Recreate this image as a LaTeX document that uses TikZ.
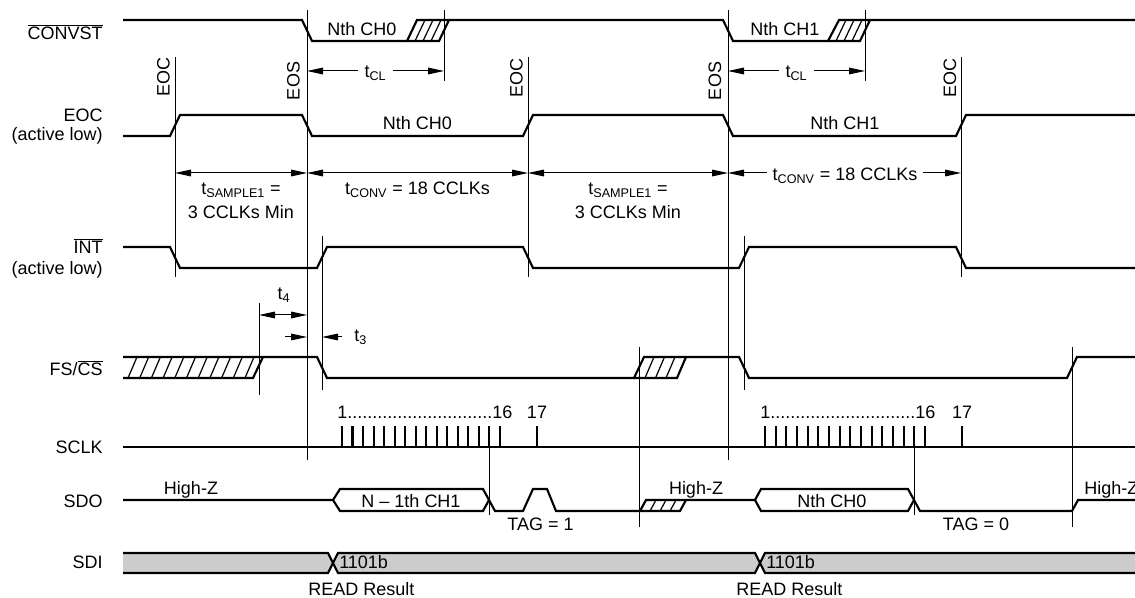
\documentclass[tikz,border=0pt]{standalone}
\usepackage{fontspec}
\setmainfont{Liberation Sans}
\usetikzlibrary{arrows.meta}

\tikzset{
  sig/.style={line width=1.6pt},
  refline/.style={line width=0.75pt},
  hatch/.style={line width=0.9pt},
  dim/.style={line width=0.75pt,{Triangle[length=12pt,width=5pt]}-{Triangle[length=12pt,width=5pt]}},
  dimto/.style={line width=0.75pt,-{Triangle[length=12pt,width=5pt]}},
  lbl/.style={inner sep=0pt},
  busfill/.style={sig,fill=gray!40},
}

\begin{document}
\begin{tikzpicture}[x=0.75pt,y=0.75pt,yscale=-1,xscale=1,font=\fontsize{13.5}{16}\selectfont]
\useasboundingbox (0,0) rectangle (1135,598);

% reference lines
\coordinate (eoc1) at (175,57);
\coordinate (eos1) at (307,10);
\coordinate (tcl1end) at (444,10);
\coordinate (eoc2) at (528,57);
\coordinate (eos2) at (728,10);
\coordinate (tcl2end) at (865,10);
\coordinate (eoc3) at (961,57);
\coordinate (fsup1) at (259,303);
\coordinate (intup1) at (322,236);
\coordinate (intup2) at (744,236);
\coordinate (fsup2) at (639,347);
\coordinate (fsup3) at (1072,347);
\coordinate (sdox1) at (489,447);
\coordinate (sdox2) at (914,447);

\draw[refline] (eoc1) -- ++(0,220);
\draw[refline] (eos1) -- ++(0,450);
\draw[refline] (tcl1end) -- ++(0,71);
\draw[refline] (eoc2) -- ++(0,220);
\draw[refline] (eos2) -- ++(0,450);
\draw[refline] (tcl2end) -- ++(0,71);
\draw[refline] (eoc3) -- ++(0,220);
\draw[refline] (fsup1) -- ++(0,92);
\draw[refline] (intup1) -- ++(0,154);
\draw[refline] (intup2) -- ++(0,154);
\draw[refline] (fsup2) -- ++(0,180);
\draw[refline] (fsup3) -- ++(0,180);
\draw[refline] (sdox1) -- ++(0,68);
\draw[refline] (sdox2) -- ++(0,68);

% rows of the timing arrows
\path (0,71) coordinate (rowcl) (0,173) coordinate (rowconv)
      (0,315) coordinate (rowfour) (0,337) coordinate (rowthree);

% signal names
\node[lbl,anchor=base east] (convst) at (103,40) {$\overline{\mbox{CONVST}}$};
\node[lbl,anchor=base east] (eoc) at (103,122) {EOC};
\node[lbl,anchor=base east] (eocnote) at (103,141) {(active low)};
\node[lbl,anchor=base east] (int) at (103,254) {$\overline{\mbox{INT}}$};
\node[lbl,anchor=base east] (intnote) at (103,275) {(active low)};
\node[lbl,anchor=base east] (fscs) at (103,376) {FS/$\overline{\mbox{CS}}$};
\node[lbl,anchor=base east] (sclk) at (103,454) {SCLK};
\node[lbl,anchor=base east] (sdo) at (103,507) {SDO};
\node[lbl,anchor=base east] (sdi) at (103,568) {SDI};

% edge labels
\node[lbl,rotate=90] (eoclbl1) at (163.5,77.5) {EOC};
\node[lbl,rotate=90] (eoslbl1) at (293.5,81) {EOS};
\node[lbl,rotate=90] (eoclbl2) at (516.5,78) {EOC};
\node[lbl,rotate=90] (eoslbl2) at (715,81) {EOS};
\node[lbl,rotate=90] (eoclbl3) at (950,78) {EOC};

%CONVST
\draw[sig] (123,20) -- (302,20) -- (312,41) -- (407,41) -- (417,20) -- (723,20) -- (733,41) -- (828,41) -- (839,20) -- (1135,20);
\draw[sig] (407,41) -- (439,41) -- (449,20);
\draw[sig] (828,41) -- (860,41) -- (870,20);
\foreach \x in {415,423,431} \draw[hatch] (\x,41) -- ++(10,-21);
\foreach \x in {836,844,852} \draw[hatch] (\x,41) -- ++(10,-21);
\node[lbl,anchor=base] (ch0a) at (362,36) {Nth CH0};
\node[lbl,anchor=base] (ch1a) at (785,36) {Nth CH1};

% t_CL
\node[anchor=base,inner ysep=0pt,inner xsep=5pt] (tcl1) at (375.5,78) {t\textsubscript{CL}};
\draw[dimto] (tcl1.west |- rowcl) -- (eos1 |- rowcl);
\draw[dimto] (tcl1.east |- rowcl) -- (tcl1end |- rowcl);
\node[anchor=base,inner ysep=0pt,inner xsep=5pt] (tcl2) at (796.5,78) {t\textsubscript{CL}};
\draw[dimto] (tcl2.west |- rowcl) -- (eos2 |- rowcl);
\draw[dimto] (tcl2.east |- rowcl) -- (tcl2end |- rowcl);

%EOC
\draw[sig] (123,136) -- (170,136) -- (180,115) -- (302,115) -- (312,136) -- (523,136) -- (533,115) -- (723,115) -- (733,136) -- (956,136) -- (966,115) -- (1135,115);
\node[lbl,anchor=base] (ch0b) at (417.5,130) {Nth CH0};
\node[lbl,anchor=base] (ch1b) at (845,130) {Nth CH1};

% conversion and sample times
\draw[dim] (eoc1 |- rowconv) -- (eos1 |- rowconv);
\draw[dim] (eos1 |- rowconv) -- (eoc2 |- rowconv);
\draw[dim] (eoc2 |- rowconv) -- (eos2 |- rowconv);
\node[lbl,anchor=base] (samp1) at (241,195) {t\textsubscript{SAMPLE1} =};
\node[lbl,anchor=base] (min1) at (241,219) {3 CCLKs Min};
\node[lbl,anchor=base] (conv1) at (417.5,195) {t\textsubscript{CONV} = 18 CCLKs};
\node[lbl,anchor=base] (samp2) at (628,195) {t\textsubscript{SAMPLE1} =};
\node[lbl,anchor=base] (min2) at (628,219) {3 CCLKs Min};
\node[anchor=base,inner ysep=0pt,inner xsep=4pt] (conv2) at (845,181) {t\textsubscript{CONV} = 18 CCLKs};
\draw[dimto] (conv2.west |- rowconv) -- (eos2 |- rowconv);
\draw[dimto] (conv2.east |- rowconv) -- (eoc3 |- rowconv);

%INT
\draw[sig] (123,247) -- (170,247) -- (180,268) -- (317,268) -- (327,247) -- (523,247) -- (533,268) -- (739,268) -- (749,247) -- (956,247) -- (966,268) -- (1135,268);

% t4 and t3
\draw[dim] (fsup1 |- rowfour) -- (eos1 |- rowfour);
\node[lbl,anchor=base] (tfour) at (284,300) {t\textsubscript{4}};
\draw[dimto] (285,337) -- (eos1 |- rowthree);
\node[anchor=base west,inner ysep=0pt,inner xsep=0pt] (tthree) at (354,342) {t\textsubscript{3}};
\draw[dimto] (342,337) -- (intup1 |- rowthree);

%FS/CS
\draw[sig] (123,357) -- (317,357) -- (327,378) -- (634,378) -- (644,357) -- (739,357) -- (749,378) -- (1067,378) -- (1077,357) -- (1135,357);
\draw[sig] (123,378) -- (253,378) -- (263,357);
\foreach \i in {0,...,10} \draw[hatch] ({128+11.7*\i},378) -- ++(9,-21);
\draw[sig] (634,378) -- (677,378) -- (686,357);
\foreach \x in {645,655.5,666} \draw[hatch] (\x,378) -- ++(9,-21);

%SCLK
\draw[sig] (123,447) -- (1135,447);
\foreach \i in {0,...,15} \draw[sig] ({342+10.53*\i},447) -- ++(0,-21);
\draw[sig] (537,447) -- ++(0,-21);
\foreach \i in {0,...,15} \draw[sig] ({765+10.67*\i},447) -- ++(0,-21);
\draw[sig] (962,447) -- ++(0,-21);
\node[lbl,anchor=base west] (cnta) at (337,418) {1.............................16};
\node[lbl,anchor=base] (cnta17) at (537,418) {17};
\node[lbl,anchor=base west] (cntb) at (760,418) {1.............................16};
\node[lbl,anchor=base] (cntb17) at (962,418) {17};

%SDO
\draw[sig] (123,500) -- (333,500) -- (340,489) -- (483,489) -- (489,500) -- (495,511) -- (523,511) -- (533,489) -- (547,489) -- (556,511) -- (640,511) -- (646,500) -- (755,500) -- (761,489) -- (908,489) -- (914,500) -- (920,511) -- (1072,511) -- (1078,500) -- (1135,500);
\draw[sig] (333,500) -- (340,511) -- (483,511) -- (489,500);
\draw[sig] (755,500) -- (761,511) -- (908,511) -- (914,500);
\draw[sig] (640,511) -- (680,511) -- (686,500);
\foreach \x in {650,660,670} \draw[hatch] (\x,511) -- ++(6,-11);
\node[lbl,anchor=base] (hiza) at (191,494) {High-Z};
\node[lbl,anchor=base] (hizb) at (696,494) {High-Z};
\node[lbl,anchor=base west] (hizc) at (1084,494) {High-Z};
\node[lbl,anchor=base] (prevch1) at (411,507) {N -- 1th CH1};
\node[lbl,anchor=base] (nthch0) at (832,507) {Nth CH0};
\node[lbl,anchor=base] (tagone) at (540.5,530) {TAG = 1};
\node[lbl,anchor=base] (tagzero) at (976,530) {TAG = 0};

%SDI
\draw[busfill] (123,553) -- (328,553) -- (333,563) -- (328,573) -- (123,573);
\draw[busfill] (333,563) -- (338,553) -- (755,553) -- (760,563) -- (755,573) -- (338,573) -- cycle;
\draw[busfill] (1140,553) -- (765,553) -- (760,563) -- (765,573) -- (1140,573);
\node[lbl,anchor=base west] (cmda) at (339,568) {1101b};
\node[lbl,anchor=base west] (cmdb) at (766,568) {1101b};
\node[lbl,anchor=base west] (reada) at (308,595) {READ Result};
\node[lbl,anchor=base west] (readb) at (736,595) {READ Result};
\end{tikzpicture}
\end{document}
